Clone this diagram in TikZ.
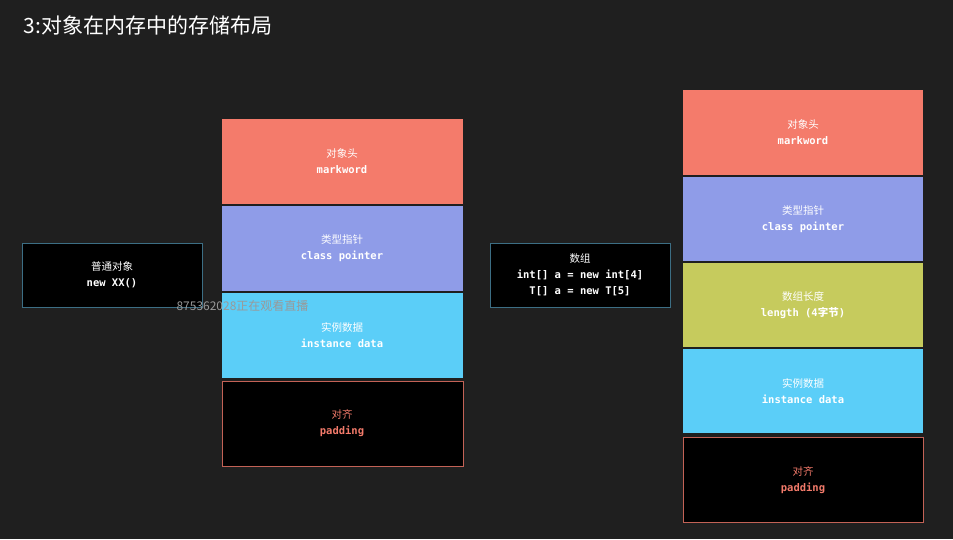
\documentclass[tikz,border=0pt]{standalone}
\usepackage{fontspec}
\setmainfont{Noto Sans CJK SC}
\newfontfamily\cjk{Noto Sans CJK SC}
\setmonofont{DejaVu Sans Mono}
\begin{document}
\begin{tikzpicture}[x=1pt,y=-1pt,
  lbl/.style={align=center,text=white,font=\fontsize{10.5}{16}\selectfont}]
\fill[black!88] (0,0) rectangle (953,539);
\useasboundingbox (0,0) rectangle (953,539);
\definecolor{rd}{HTML}{F47B6B}\definecolor{bl}{HTML}{8F9CE8}\definecolor{cy}{HTML}{5BCEF8}\definecolor{ol}{HTML}{C6CB5D}\definecolor{fr}{HTML}{3C6E84}
\node[anchor=west,text=white,font=\fontsize{21}{24}\selectfont] (t) at (20,25) {3:对象在内存中的存储布局};
% left
\draw[fr,fill=black] (22,243) rectangle (202,307);
\node[lbl] (l) at (112,275) {普通对象\\\ttfamily\bfseries new XX()};
\fill[rd] (222,119) rectangle (463,204); \node[lbl] (m1) at (342,161) {对象头\\\ttfamily\bfseries markword};
\fill[bl] (222,206) rectangle (463,291); \node[lbl] (m2) at (342,248) {类型指针\\\ttfamily\bfseries class pointer};
\fill[cy] (222,293) rectangle (463,378); \node[lbl] (m3) at (342,335) {实例数据\\\ttfamily\bfseries instance data};
\draw[rd!80!black,fill=black] (222,381) rectangle (463,466); \node[lbl,text=rd] (m4) at (342,423) {对齐\\\ttfamily\bfseries padding};
\node[text=gray!80,anchor=west,font=\fontsize{12}{14}\selectfont] (w) at (173,306) {875362028正在观看直播};
% array
\draw[fr,fill=black] (490,243) rectangle (670,307);
\node[lbl] (a) at (580,275) {数组\\\ttfamily\bfseries int[] a = new int[4]\\\ttfamily\bfseries T[] a = new T[5]};
% right
\fill[rd] (683,90) rectangle (923,175); \node[lbl] (r1) at (803,132) {对象头\\\ttfamily\bfseries markword};
\fill[bl] (683,177) rectangle (923,261); \node[lbl] (r2) at (803,219) {类型指针\\\ttfamily\bfseries class pointer};
\fill[ol] (683,263) rectangle (923,347); \node[lbl] (r3) at (803,305) {数组长度\\{\ttfamily\bfseries length (4}{\cjk\bfseries 字节}{\ttfamily\bfseries )}};
\fill[cy] (683,349) rectangle (923,433); \node[lbl] (r4) at (803,391) {实例数据\\\ttfamily\bfseries instance data};
\draw[rd!80!black,fill=black] (683,437) rectangle (923,522); \node[lbl,text=rd] (r5) at (803,480) {对齐\\\ttfamily\bfseries padding};
\end{tikzpicture}
\end{document}
